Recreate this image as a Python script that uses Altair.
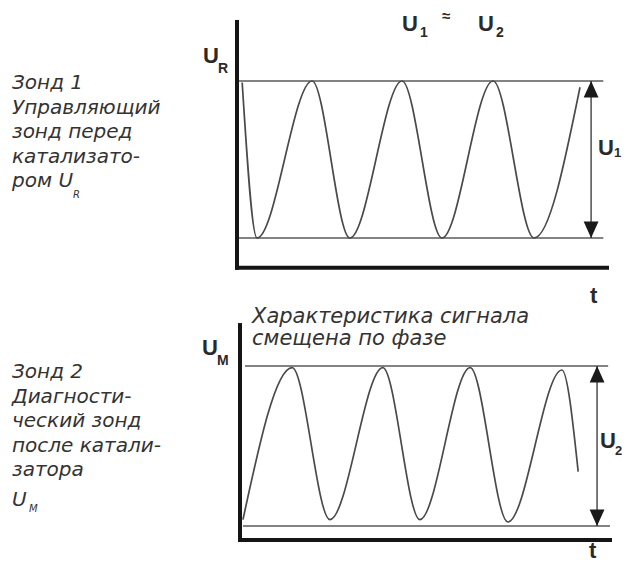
import altair as alt
import pandas as pd

# ---------------- data ----------------
# Panel 1 (probe 1, U_R): extrema of the signal, t in arbitrary time units, v relative (0 = min line, 1 = max line)
top_t = [0.14, 0.54, 2.03, 3.05, 4.46, 5.54, 6.92, 8.03, 9.27]
top_v = [0.99, 0.00, 1.00, 0.00, 1.00, 0.00, 1.00, 0.00, 0.96]
# Panel 2 (probe 2, U_M): phase shifted signal
bot_t = [0.08, 1.41, 2.43, 3.86, 4.86, 6.22, 7.24, 8.70, 9.14]
bot_v = [0.04, 0.99, 0.04, 0.99, 0.04, 0.99, 0.025, 0.975, 0.34]

# reference (min / max) lines: level, start t, end t
top_ref_v = [1.0, 0.0]
top_ref_t0 = [0.03, 0.03]
top_ref_t1 = [9.9, 9.9]
bot_ref_v = [1.0, 0.0]
bot_ref_t0 = [0.135, 0.08]
bot_ref_t1 = [9.95, 10.0]

# amplitude arrows (t position)
top_arrow_t = 9.57
bot_arrow_t = 9.65

# axis extents (t range, v range)
top_axis_t = [0.0, 10.0]
top_axis_v = [-0.19, 1.376]
bot_axis_t = [0.0, 10.0]
bot_axis_v = [-0.0875, 1.256]

# texts
block1 = "Зонд 1\nУправляющий\nзонд перед\nкатализато-\nром U"
block2 = "Зонд 2\nДиагности-\nческий зонд\nпосле катали-\nзатора"
note = "Характеристика сигнала\nсмещена по фазе"

lab_text = ["U", "1", "≈", "U", "2", "U", "R", "U", "M", "U", "1", "U", "2", "t", "t"]
lab_x = [394, 412, 434, 470, 488, 195, 210, 194, 209, 590, 606, 592, 607, 582, 581]
lab_y = [23, 29, 13, 23, 29, 55, 65, 347, 357, 147, 149, 440, 447, 295, 550]
lab_s = [22, 14, 15, 22, 14, 22, 14, 22, 14, 22, 13, 22, 13, 22, 22]

# ---------------- layout ----------------
W, H = 614, 554
OFF = 8          # page margin
PX_T = 37.0      # pixels per time unit
TOP_X0, TOP_Y0, TOP_PXV = 237, 238, 157.0
BOT_X0, BOT_Y0, BOT_PXV = 240, 526, 160.0

def xdom(x0):
    return [(OFF - x0) / PX_T, (OFF + W - x0) / PX_T]

def ydom(y0, pxv):
    return [(y0 - (OFF + H)) / pxv, (y0 - OFF) / pxv]

CURVE = "#4a4a4a"
REF = "#5a5a5a"
AXIS = "#151515"
TXT = "#2a2a2a"

def panel(ct, cv, rv, rt0, rt1, arrow_t, at, av, x0, y0, pxv):
    xs = alt.Scale(domain=xdom(x0), nice=False, zero=False)
    ys = alt.Scale(domain=ydom(y0, pxv), nice=False, zero=False)
    X = lambda f: alt.X(f, type="quantitative", scale=xs, axis=None)
    Y = lambda f: alt.Y(f, type="quantitative", scale=ys, axis=None)

    curve = alt.Chart(pd.DataFrame({"t": ct, "v": cv})).mark_line(
        interpolate="monotone", color=CURVE, strokeWidth=1.7
    ).encode(x=X("t"), y=Y("v"))

    refs = alt.Chart(pd.DataFrame({"v": rv, "t0": rt0, "t1": rt1})).mark_rule(
        color=REF, strokeWidth=1.5
    ).encode(x=X("t0"), x2="t1", y=Y("v"))

    vaxis = alt.Chart(pd.DataFrame({"t": [at[0]], "v0": [av[0]], "v1": [av[1]]})).mark_rule(
        color=AXIS, strokeWidth=4, strokeCap="square"
    ).encode(x=X("t"), y=Y("v0"), y2="v1")
    haxis = alt.Chart(pd.DataFrame({"v": [av[0]], "t0": [at[0]], "t1": [at[1]]})).mark_rule(
        color=AXIS, strokeWidth=4, strokeCap="square"
    ).encode(x=X("t0"), x2="t1", y=Y("v"))

    shaft = alt.Chart(pd.DataFrame({"t": [arrow_t], "v0": [0.0], "v1": [1.0]})).mark_rule(
        color="#333333", strokeWidth=1.3
    ).encode(x=X("t"), y=Y("v0"), y2="v1")
    head_up = alt.Chart(pd.DataFrame({"t": [arrow_t], "v": [1.0]})).mark_point(
        shape="M0,0L-0.9,2L0.9,2Z", filled=True, opacity=1, size=272, color="#1a1a1a"
    ).encode(x=X("t"), y=Y("v"))
    head_dn = alt.Chart(pd.DataFrame({"t": [arrow_t], "v": [0.0]})).mark_point(
        shape="M0,0L-0.9,-2L0.9,-2Z", filled=True, opacity=1, size=272, color="#1a1a1a"
    ).encode(x=X("t"), y=Y("v"))

    return alt.layer(refs, curve, vaxis, haxis, shaft, head_up, head_dn)

top = panel(top_t, top_v, top_ref_v, top_ref_t0, top_ref_t1, top_arrow_t,
            top_axis_t, top_axis_v, TOP_X0, TOP_Y0, TOP_PXV)
bot = panel(bot_t, bot_v, bot_ref_v, bot_ref_t0, bot_ref_t1, bot_arrow_t,
            bot_axis_t, bot_axis_v, BOT_X0, BOT_Y0, BOT_PXV)

PX = alt.X("x:Q", scale=None, axis=None)
PY = alt.Y("y:Q", scale=None, axis=None)

labels = alt.Chart(pd.DataFrame({"txt": lab_text, "x": lab_x, "y": lab_y, "s": lab_s})).mark_text(
    font="Liberation Sans", fontWeight="bold", align="left", baseline="alphabetic", color=TXT
).encode(x=PX, y=PY, text="txt:N", size=alt.Size("s:Q", scale=None, legend=None))

left_blocks = alt.Chart(pd.DataFrame({"txt": [block1, block2], "x": [4, 4], "y": [81, 370]})).mark_text(
    font="DejaVu Sans", fontStyle="italic", fontSize=20, align="left", baseline="alphabetic",
    color="#333333", lineBreak="\n", lineHeight=24.6
).encode(x=PX, y=PY, text="txt:N")

left_small = alt.Chart(pd.DataFrame({"txt": ["U", "R", "M"], "x": [4, 65, 21], "y": [498, 190, 504],
                                     "s": [20, 10, 10]})).mark_text(
    font="DejaVu Sans", fontStyle="italic", align="left", baseline="alphabetic", color="#333333"
).encode(x=PX, y=PY, text="txt:N", size=alt.Size("s:Q", scale=None, legend=None))

note_txt = alt.Chart(pd.DataFrame({"txt": [note], "x": [244], "y": [315]})).mark_text(
    font="DejaVu Sans", fontStyle="italic", fontSize=21, align="left", baseline="alphabetic",
    color="#333333", lineBreak="\n", lineHeight=22
).encode(x=PX, y=PY, text="txt:N")

chart = alt.layer(top, bot, labels, left_blocks, left_small, note_txt).resolve_scale(
    x="independent", y="independent"
).properties(
    width=W, height=H, padding=0, autosize=alt.AutoSizeParams(type="none"), background="white"
).configure_view(stroke=None)

chart.save("out.html", embed_options={"renderer": "svg", "actions": False})
